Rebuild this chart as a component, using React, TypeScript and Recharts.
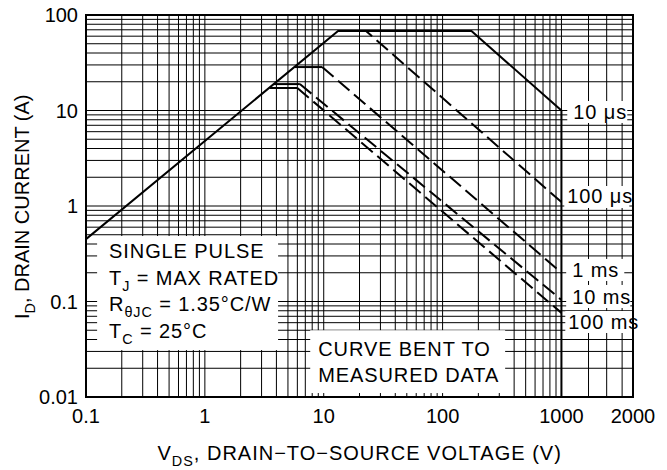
import React from 'react';
import { LineChart, Line, XAxis, YAxis, CartesianGrid, ReferenceArea, Label } from 'recharts';

const FONT = '"Liberation Sans", Arial, Helvetica, sans-serif';

// V_DS (V) / I_D (A) corner points of each pulse-width curve
const us10V = [0.1, 13.2, 175, 1000, 1000];
const us10I = [0.45, 68, 68, 10, 0.01];
const us100V = [13.2, 22.7, 1000];
const us100I = [68, 68, 1.1];
const ms1V = [5.7, 9.7, 1000];
const ms1I = [28.5, 28.5, 0.2];
const ms10V = [3.8, 6.3, 1000];
const ms10I = [18.9, 18.9, 0.104];
const ms100V = [3.5, 6, 1000];
const ms100I = [17.2, 17.2, 0.076];

// axis labels and the extra grid lines of the stretched 1000-2000 V span
const xLabels = [0.1, 1, 10, 100, 1000, 2000];
const xExtraGrid = [1300, 1550, 1800];
const yLabels = [0.01, 0.1, 1, 10, 100];
const gridSteps = [1, 2, 3, 4, 5, 6, 7, 8, 9];

// the x axis is log up to 1000 V, the last span to 2000 V is drawn twice as wide
const toU = (v: number) => (v <= 1000 ? Math.log10(v) : 3 + 2 * Math.log10(v / 1000));
const fromU = (u: number) => (u <= 3 ? Math.pow(10, u) : 1000 * Math.pow(10, (u - 3) / 2));
const U_MIN = toU(0.1);
const U_MAX = toU(2000);

const xTicks = [
  ...xLabels.slice(0, 4).flatMap((d) => gridSteps.map((k) => toU(k * d))),
  toU(1000),
  ...xExtraGrid.map(toU),
  toU(2000),
];
const yTicks = [...yLabels.slice(0, 4).flatMap((d) => gridSteps.map((k) => k * d)), 100];

const fmtX = (u: number) => {
  const v = fromU(u);
  const hit = xLabels.find((l) => Math.abs(v - l) / l < 1e-6);
  return hit === undefined ? '' : String(hit);
};
const fmtY = (v: number) => {
  const hit = yLabels.find((l) => Math.abs(v - l) / l < 1e-6);
  return hit === undefined ? '' : String(hit);
};

const pts = (vs: number[], is: number[]) => vs.map((v, n) => ({ u: toU(v), i: is[n] }));

type Seg = [string, boolean?];

function RichText({ x, y, segs, size = 20, spacing = 0 }: { x: number; y: number; segs: Seg[]; size?: number; spacing?: number }) {
  let shift = 0;
  return (
    <text x={x} y={y} fontFamily={FONT} fontSize={size} fill="#000" letterSpacing={spacing}>
      {segs.map(([t, sub], n) => {
        const target = sub ? 6 : 0;
        const dy = target - shift;
        shift = target;
        return (
          <tspan key={n} dy={dy} fontSize={sub ? size * 0.72 : size}>
            {t}
          </tspan>
        );
      })}
    </text>
  );
}

const noteShape = (rows: Seg[][], padX: number, firstBase: number, lineGap: number) => (p: any) => (
  <g>
    <rect x={p.x} y={p.y} width={p.width} height={p.height} fill="#fff" />
    {rows.map((segs, n) => (
      <RichText key={n} x={p.x + padX} y={p.y + firstBase + n * lineGap} segs={segs} spacing={0.9} />
    ))}
  </g>
);

const notes = [
  {
    v: [0.124, 4.13], i: [0.031, 0.485], padX: 12, base: 22, gap: 26.5,
    rows: [
      [['SINGLE PULSE']],
      [['T'], ['J', true], [' = MAX RATED']],
      [['R'], ['θJC', true], [' = 1.35°C/W']],
      [['T'], ['C', true], [' = 25°C']],
    ] as Seg[][],
  },
  {
    v: [7.7, 336], i: [0.011, 0.05], padX: 8, base: 26, gap: 26,
    rows: [[['CURVE BENT TO']], [['MEASURED DATA']]] as Seg[][],
  },
  { v: [1058, 1892], i: [7.4, 12.57], padX: 6, base: 18, gap: 0, rows: [[['10 μs']]] as Seg[][] },
  { v: [1028, 1930], i: [0.953, 1.62], padX: 3, base: 17, gap: 0, rows: [[['100 μs']]] as Seg[][] },
  { v: [1047, 1838], i: [0.164, 0.279], padX: 6, base: 18, gap: 0, rows: [[['1 ms']]] as Seg[][] },
  { v: [1047, 1948], i: [0.0855, 0.149], padX: 6, base: 19, gap: 0, rows: [[['10 ms']]] as Seg[][] },
  { v: [1038, 2091], i: [0.0468, 0.0795], padX: 3, base: 18, gap: 0, rows: [[['100 ms']]] as Seg[][] },
];

const XTitle = (props: any) => {
  const vb = props.viewBox;
  return (
    <RichText
      x={vb.x + vb.width / 2 - 202}
      y={vb.y + 63}
      spacing={1}
      segs={[['V'], ['DS', true], [', DRAIN−TO−SOURCE VOLTAGE (V)']]}
    />
  );
};

const YTitle = (props: any) => {
  const vb = props.viewBox;
  const cx = 29;
  const cy = vb.y + vb.height / 2;
  return (
    <g transform={`rotate(-90, ${cx}, ${cy})`}>
      <RichText x={cx - 113} y={cy} segs={[['I'], ['D', true], [', DRAIN CURRENT (A)']]} />
    </g>
  );
};

export default function App() {
  const solid = { stroke: '#000', strokeWidth: 2, dot: false, activeDot: false, isAnimationActive: false, type: 'linear' as const };
  const dashed = { ...solid, strokeDasharray: '15 6' };

  return (
    <div style={{ width: 667, height: 470, background: '#fff' }}>
      <style>{'body{margin:0}'}</style>
      <LineChart width={667} height={470} margin={{ top: 15, right: 34, bottom: 33, left: 20 }}>
        <CartesianGrid stroke="#000" strokeWidth={1} strokeOpacity={1} />
        <XAxis
          type="number"
          dataKey="u"
          domain={[U_MIN, U_MAX]}
          ticks={xTicks}
          interval={0}
          tickFormatter={fmtX}
          tickLine={false}
          axisLine={false}
          tickSize={0}
          tickMargin={12}
          height={40}
          allowDataOverflow
          tick={{ fill: '#000', fontSize: 20, fontFamily: FONT }}
        >
          <Label content={XTitle} />
        </XAxis>
        <YAxis
          type="number"
          dataKey="i"
          scale="log"
          domain={[0.01, 100]}
          ticks={yTicks}
          interval={0}
          tickFormatter={fmtY}
          tickLine={false}
          axisLine={false}
          tickSize={0}
          tickMargin={8}
          width={66}
          allowDataOverflow
          tick={{ fill: '#000', fontSize: 20, fontFamily: FONT }}
        >
          <Label content={YTitle} />
        </YAxis>

        {notes.map((n, k) => (
          <ReferenceArea
            key={k}
            x1={toU(n.v[0])}
            x2={toU(n.v[1])}
            y1={n.i[0]}
            y2={n.i[1]}
            ifOverflow="visible"
            shape={noteShape(n.rows, n.padX, n.base, n.gap)}
          />
        ))}

        <Line data={pts(us10V, us10I)} dataKey="i" {...solid} />
        <Line data={pts(us100V, us100I)} dataKey="i" {...dashed} />
        <Line data={pts(ms1V.slice(0, 2), ms1I.slice(0, 2))} dataKey="i" {...solid} />
        <Line data={pts(ms1V.slice(1), ms1I.slice(1))} dataKey="i" {...dashed} />
        <Line data={pts(ms10V.slice(0, 2), ms10I.slice(0, 2))} dataKey="i" {...solid} />
        <Line data={pts(ms10V.slice(1), ms10I.slice(1))} dataKey="i" {...dashed} />
        <Line data={pts(ms100V.slice(0, 2), ms100I.slice(0, 2))} dataKey="i" {...solid} />
        <Line data={pts(ms100V.slice(1), ms100I.slice(1))} dataKey="i" {...dashed} />

        <ReferenceArea x1={U_MIN} x2={U_MAX} y1={0.01} y2={100} fill="none" stroke="#000" strokeWidth={2} />
      </LineChart>
    </div>
  );
}
